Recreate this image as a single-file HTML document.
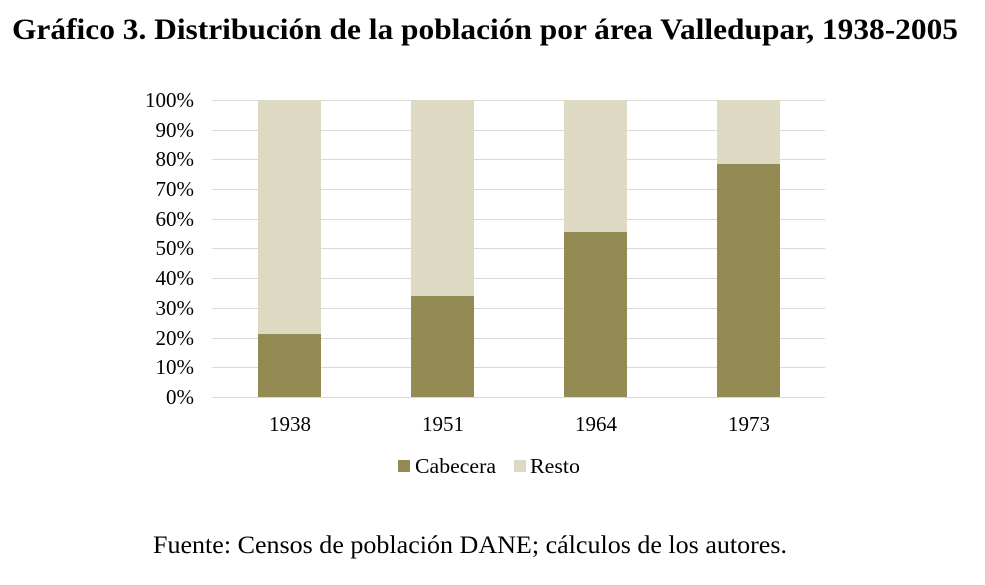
<!DOCTYPE html>
<html><head><meta charset="utf-8"><style>
body{margin:0;background:#fff;}
svg text{font-family:"Liberation Serif",serif;}
</style></head><body>
<svg width="985" height="580" xmlns="http://www.w3.org/2000/svg">
<rect width="985" height="580" fill="#fff"/>
<text x="12" y="39" font-size="30" font-weight="bold" fill="#000" textLength="946" lengthAdjust="spacingAndGlyphs">Gráfico 3. Distribución de la población por área Valledupar, 1938-2005</text>
<g stroke="#d9d9d9" stroke-width="1">
<line x1="212" x2="825" y1="100.5" y2="100.5"/>
<line x1="212" x2="825" y1="130.5" y2="130.5"/>
<line x1="212" x2="825" y1="159.5" y2="159.5"/>
<line x1="212" x2="825" y1="189.5" y2="189.5"/>
<line x1="212" x2="825" y1="219.5" y2="219.5"/>
<line x1="212" x2="825" y1="248.5" y2="248.5"/>
<line x1="212" x2="825" y1="278.5" y2="278.5"/>
<line x1="212" x2="825" y1="308.5" y2="308.5"/>
<line x1="212" x2="825" y1="338.5" y2="338.5"/>
<line x1="212" x2="825" y1="367.5" y2="367.5"/>
<line x1="212" x2="825" y1="397.5" y2="397.5"/>
</g>
<g font-size="21" fill="#000" text-anchor="end">
<text x="194" y="107">100%</text><text x="194" y="137">90%</text><text x="194" y="166">80%</text>
<text x="194" y="196">70%</text><text x="194" y="226">60%</text><text x="194" y="255">50%</text>
<text x="194" y="285">40%</text><text x="194" y="315">30%</text><text x="194" y="345">20%</text>
<text x="194" y="374">10%</text><text x="194" y="404">0%</text>
</g>
<g fill="#DDD9C3">
<rect x="258" y="100" width="63" height="297"/>
<rect x="411" y="100" width="63" height="297"/>
<rect x="564" y="100" width="63" height="297"/>
<rect x="717" y="100" width="63" height="297"/>
</g>
<g fill="#948A54">
<rect x="258" y="334" width="63" height="63"/>
<rect x="411" y="296" width="63" height="101"/>
<rect x="564" y="232" width="63" height="165"/>
<rect x="717" y="164" width="63" height="233"/>
</g>
<g font-size="21" fill="#000" text-anchor="middle">
<text x="290" y="431">1938</text><text x="443" y="431">1951</text>
<text x="596" y="431">1964</text><text x="749" y="431">1973</text>
</g>
<rect x="398" y="460" width="12" height="12" fill="#948A54"/>
<text x="415" y="473" font-size="21" textLength="81" lengthAdjust="spacingAndGlyphs">Cabecera</text>
<rect x="514" y="460" width="12" height="12" fill="#DDD9C3"/>
<text x="530" y="473" font-size="21" textLength="50" lengthAdjust="spacingAndGlyphs">Resto</text>
<text x="153" y="553" font-size="25" textLength="634" lengthAdjust="spacingAndGlyphs">Fuente: Censos de población DANE; cálculos de los autores.</text>
</svg>
</body></html>
